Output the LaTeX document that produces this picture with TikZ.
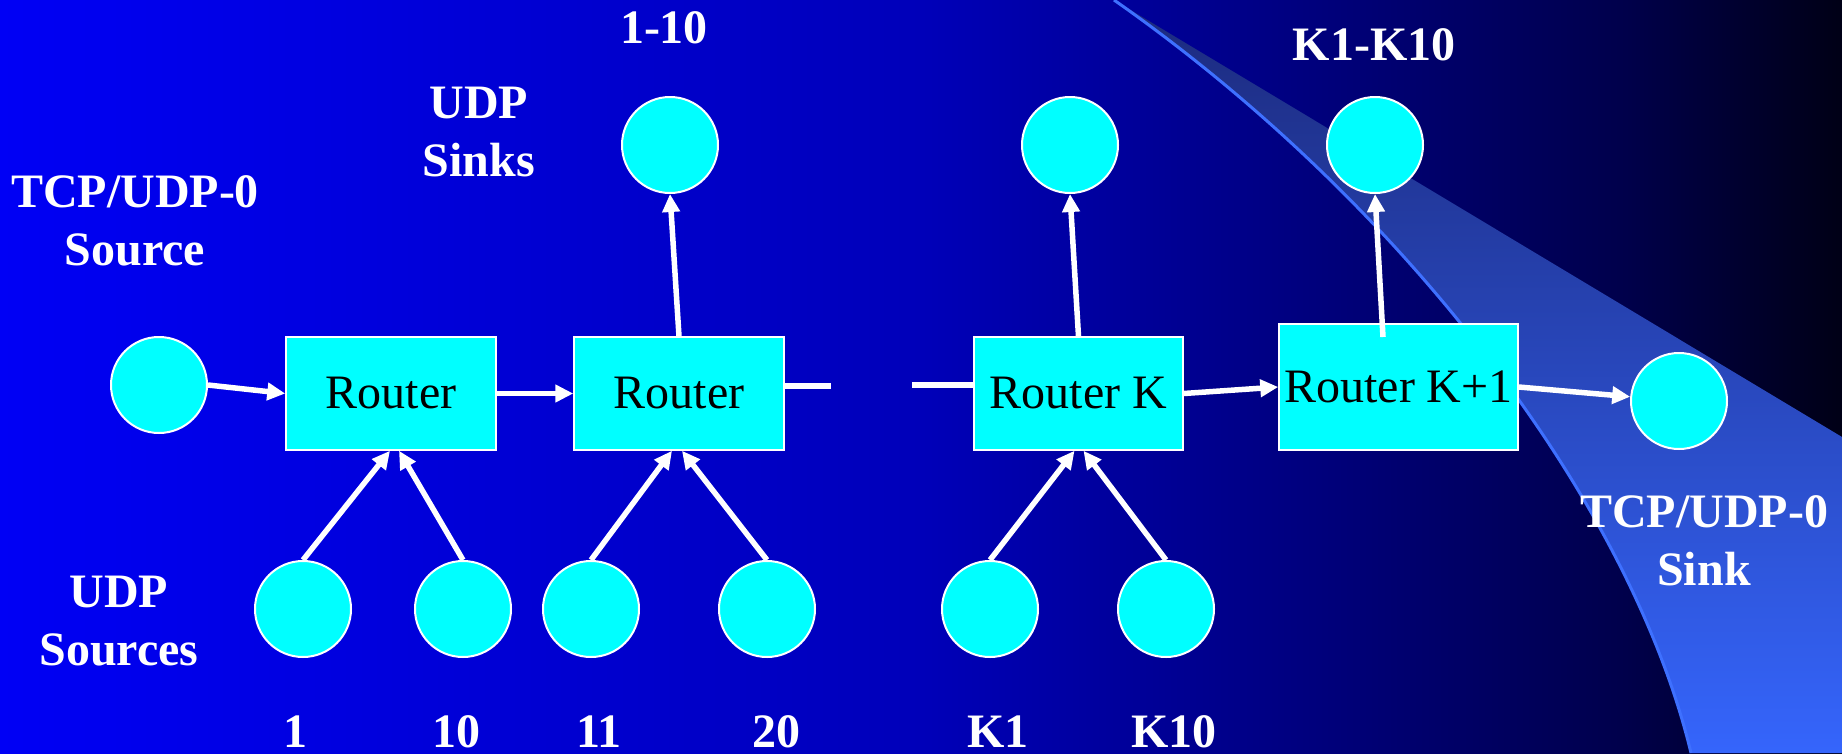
\documentclass[tikz,border=0pt]{standalone}
\usepackage{fontspec}
\setmainfont{Liberation Serif}
\usetikzlibrary{arrows.meta}
\definecolor{bgA}{RGB}{0,0,245}
\definecolor{bgB}{RGB}{0,0,185}
\definecolor{bgC}{RGB}{0,0,150}
\definecolor{bgD}{RGB}{0,0,75}
\definecolor{bgE}{RGB}{0,0,22}
\definecolor{swA}{RGB}{28,42,125}
\definecolor{swB}{RGB}{46,86,222}
\definecolor{swC}{RGB}{53,101,252}
\definecolor{swLine}{RGB}{62,112,255}
\definecolor{cyanfill}{RGB}{0,255,255}
\newcommand{\twoline}[2]{\begin{tabular}[t]{@{}c@{}}#1\\#2\end{tabular}}
\begin{document}
\begin{tikzpicture}[x=1pt,y=-1pt,
  host/.style={circle, fill=cyanfill, draw=white, line width=2pt, minimum size=96pt, inner sep=0pt},
  router/.style={rectangle, fill=cyanfill, draw=white, line width=1.5pt, inner sep=0pt, text=black, font=\fontsize{48}{58}\selectfont},
  lbl/.style={text=white, font=\bfseries\fontsize{48}{58}\selectfont, inner sep=0pt, anchor=base},
  arr/.style={draw=white, line width=5.5pt, -{Triangle[length=18pt,width=17pt]}},
  link/.style={draw=white, line width=5.5pt}]
\useasboundingbox (0,0) rectangle (1842,753);
% background
\fill[left color=bgA, right color=bgB] (0,0) rectangle (922,753);
\fill[left color=bgB, right color=bgC] (921,0) rectangle (1156,753);
\fill[left color=bgC, right color=bgD] (1155,0) rectangle (1626,753);
\fill[left color=bgD, right color=bgE] (1625,0) rectangle (1842,753);
% swoosh
\shade[top color=swA, middle color=swB, bottom color=swC]
  (1114,0) -- (1842,437) -- (1842,753) -- (1691,753)
  .. controls (1630,500) and (1400,200) .. (1114,0) -- cycle;
\draw[swLine, line width=3pt] (1114,0) .. controls (1400,200) and (1630,500) .. (1691,753);

% routers
\node[router, minimum width=210pt, minimum height=113pt] (r1) at (391,393.5) {Router};
\node[router, minimum width=210pt, minimum height=113pt] (r2) at (679,393.5) {Router};
\node[router, minimum width=209pt, minimum height=113pt] (rK) at (1078.5,393.5) {Router K};
\node[router, minimum width=239pt, minimum height=126pt] (rK1) at (1398.5,387) {Router K+1};

% hosts
\node[host] (src) at (159,385) {};
\node[host] (s1) at (670,145) {};
\node[host] (sK) at (1070,145) {};
\node[host] (sK1) at (1375,145) {};
\node[host] (tsink) at (1679,401) {};
\node[host] (u1) at (303,609) {};
\node[host] (u10) at (463,609) {};
\node[host] (u11) at (591,609) {};
\node[host] (u20) at (767,609) {};
\node[host] (uK1) at (990,609) {};
\node[host] (uK10) at (1166,609) {};

% connectors
\coordinate (g1) at (831,386);
\coordinate (g2) at (912,385);
\coordinate (k1top) at (1383,337);
\draw[arr] (src.east) -- (r1.west);
\draw[arr] (r1.east) -- (r2.west);
\draw[link] (r2.east |- g1) -- (g1);
\draw[link] (g2) -- (rK.west |- g2);
\draw[arr] (rK.east) -- (rK1.west);
\draw[arr] (rK1.east) -- (tsink);
\draw[arr] (r2.north) -- (s1.south);
\draw[arr] (rK.north) -- (sK.south);
\draw[arr] (k1top) -- (sK1.south);
\draw[arr] (u1.north) -- ([xshift=-1pt]r1.south);
\draw[arr] (u10.north) -- ([xshift=8pt]r1.south);
\draw[arr] (u11.north) -- ([xshift=-7pt]r2.south);
\draw[arr] (u20.north) -- ([xshift=3pt]r2.south);
\draw[arr] (uK1.north) -- ([xshift=-4pt]rK.south);
\draw[arr] (uK10.north) -- ([xshift=5pt]rK.south);

% labels
\node[lbl] (l110) at (664,43) {1-10};
\node[lbl] (lsinks) at (479,118) {\twoline{UDP}{Sinks}};
\node[lbl] (lsrc) at (135,207) {\twoline{TCP/UDP-0}{Source}};
\node[lbl] (lsources) at (119,607) {\twoline{UDP}{Sources}};
\node[lbl] (lK) at (1374,60) {K1-K10};
\node[lbl] (ltsink) at (1704,527) {\twoline{TCP/UDP-0}{Sink}};
\node[lbl] (n1) at (295,747) {1};
\node[lbl] (n10) at (456,747) {10};
\node[lbl] (n11) at (599,747) {11};
\node[lbl] (n20) at (776,747) {20};
\node[lbl] (nK1) at (998,747) {K1};
\node[lbl] (nK10) at (1174,747) {K10};
\end{tikzpicture}
\end{document}
